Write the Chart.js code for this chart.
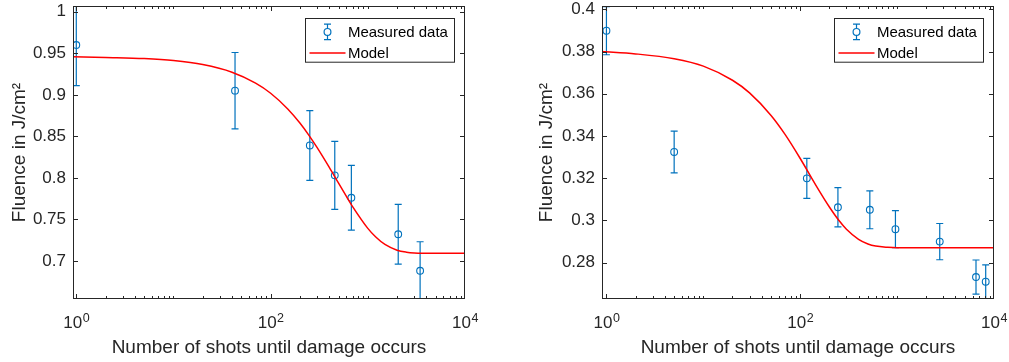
<!DOCTYPE html>
<html>
<head>
<meta charset="utf-8">
<script src="https://cdn.jsdelivr.net/npm/chart.js@4.4.0/dist/chart.umd.min.js"></script>
<style>
  html, body { margin: 0; padding: 0; background: #fff; }
  #wrap { position: relative; width: 1009px; height: 362px; }
  #left { position: absolute; left: 0; top: 0; }
  #right { position: absolute; left: 505px; top: 0; }
</style>
</head>
<body>
<div id="wrap">
  <canvas id="left" width="505" height="362"></canvas>
  <canvas id="right" width="504" height="362"></canvas>
</div>
<script>
// left panel: measured points
const shotsA = [1, 43, 253, 457, 677, 2055, 3452];
const fluenceA = [0.960, 0.905, 0.839, 0.803, 0.776, 0.732, 0.688];
const errA = [0.049, 0.046, 0.042, 0.041, 0.039, 0.036, 0.035];
// left panel: model curve
const modelShotsA = [0.925, 2, 5, 10, 20, 40, 70, 100, 150, 200, 250, 300, 400, 500, 600, 700, 1000, 1200, 1500, 2000, 2500, 3000, 5000, 10000];
const modelA = [0.946, 0.945, 0.9436, 0.9412, 0.9364, 0.9272, 0.9141, 0.9019, 0.883, 0.866, 0.8506, 0.8366, 0.8128, 0.7935, 0.7778, 0.765, 0.7391, 0.729, 0.7197, 0.7128, 0.7104, 0.7095, 0.709, 0.709];

// right panel: measured points
const shotsB = [1, 5, 117, 245, 523, 961, 2754, 6520, 8210];
const fluenceB = [0.3899, 0.3324, 0.3199, 0.3062, 0.3050, 0.2958, 0.2899, 0.2731, 0.2709];
const errB = [0.0114, 0.0099, 0.0095, 0.0093, 0.0090, 0.0088, 0.0086, 0.0081, 0.0080];
// right panel: model curve
const modelShotsB = [0.9, 2, 5, 10, 20, 30, 50, 70, 100, 150, 200, 250, 300, 400, 500, 600, 800, 1000, 10000];
const modelB = [0.3800, 0.3789, 0.3766, 0.3731, 0.3664, 0.3604, 0.3497, 0.3406, 0.3293, 0.3155, 0.3063, 0.3000, 0.2958, 0.2910, 0.2888, 0.2878, 0.2872, 0.2870, 0.2870];

const xTicks = [1, 100, 10000];
const xTickBase = '10';
const xTickExps = ['0', '2', '4'];
const yTicksA = [0.7, 0.75, 0.8, 0.85, 0.9, 0.95, 1];
const yLabelsA = ['0.7', '0.75', '0.8', '0.85', '0.9', '0.95', '1'];
const yTicksB = [0.28, 0.3, 0.32, 0.34, 0.36, 0.38, 0.4];
const yLabelsB = ['0.28', '0.3', '0.32', '0.34', '0.36', '0.38', '0.4'];

const blue = '#0072BD';
const axisGray = '#262626';
const fontFam = '"Liberation Sans", Arial, Helvetica, sans-serif';

// error bars, box, inner ticks, 10^n labels and the legend, drawn the matlab way
const matlabLook = {
  id: 'matlabLook',
  beforeDatasetsDraw(chart, args, opts) {
    const { ctx, chartArea: a, scales: { x, y } } = chart;
    ctx.save();
    ctx.beginPath();
    ctx.rect(a.left, a.top, a.right - a.left, a.bottom - a.top);
    ctx.clip();
    ctx.strokeStyle = blue;
    ctx.lineWidth = 1.2;
    opts.shots.forEach((n, i) => {
      const px = x.getPixelForValue(n);
      const lo = y.getPixelForValue(opts.fluence[i] - opts.err[i]);
      const hi = y.getPixelForValue(opts.fluence[i] + opts.err[i]);
      ctx.beginPath();
      ctx.moveTo(px, lo); ctx.lineTo(px, hi);
      ctx.moveTo(px - 3.5, lo); ctx.lineTo(px + 3.5, lo);
      ctx.moveTo(px - 3.5, hi); ctx.lineTo(px + 3.5, hi);
      ctx.stroke();
    });
    ctx.restore();
  },
  afterDraw(chart, args, opts) {
    const { ctx, chartArea: a, scales: { x, y } } = chart;
    const L = Math.round(a.left) + 0.5, R = Math.round(a.right) - 0.5;
    const T = Math.round(a.top) + 0.5, B = Math.round(a.bottom) - 0.5;
    ctx.save();
    ctx.strokeStyle = axisGray;
    ctx.lineWidth = 1;
    ctx.strokeRect(L, T, R - L, B - T);

    // inner ticks
    ctx.beginPath();
    for (let d = 0; d < 4; d++) {
      for (let m = 1; m < 10; m++) {
        const v = m * Math.pow(10, d);
        const px = Math.round(x.getPixelForValue(v)) + 0.5;
        if (px < L || px > R) continue;
        const len = (m === 1 && d % 2 === 0) ? 4.5 : 2.5;
        ctx.moveTo(px, B); ctx.lineTo(px, B - len);
        ctx.moveTo(px, T); ctx.lineTo(px, T + len);
      }
    }
    y.ticks.forEach(t => {
      const py = Math.round(y.getPixelForValue(t.value)) + 0.5;
      ctx.moveTo(L, py); ctx.lineTo(L + 4.5, py);
      ctx.moveTo(R, py); ctx.lineTo(R - 4.5, py);
    });
    ctx.stroke();

    // x tick labels as 10 with a raised exponent
    ctx.fillStyle = axisGray;
    ctx.textBaseline = 'alphabetic';
    ctx.textAlign = 'left';
    const baseFont = '17px ' + fontFam, expFont = '12.5px ' + fontFam;
    xTicks.forEach((v, i) => {
      const px = x.getPixelForValue(v);
      ctx.font = baseFont;
      const wb = ctx.measureText(xTickBase).width;
      ctx.font = expFont;
      const we = ctx.measureText(xTickExps[i]).width;
      const x0 = px - (wb + we) / 2;
      ctx.font = baseFont;
      ctx.fillText(xTickBase, x0, a.bottom + 29.3);
      ctx.font = expFont;
      ctx.fillText(xTickExps[i], x0 + wb + 0.5, a.bottom + 22.7);
    });

    // legend
    const bw = 149, bh = 43.7;
    const bx = Math.round(a.right - 11 - bw) + 0.5;
    const by = Math.round(a.top + 11.6) + 0.5;
    ctx.fillStyle = '#fff';
    ctx.fillRect(bx, by, bw, bh);
    ctx.strokeStyle = axisGray;
    ctx.strokeRect(bx, by, bw, bh);

    const y1 = by + 13.4, y2 = by + 34.4;
    const sx = bx + 22;
    ctx.strokeStyle = blue;
    ctx.lineWidth = 1.2;
    ctx.beginPath();
    ctx.moveTo(sx, y1 - 7.7); ctx.lineTo(sx, y1 - 3.4);
    ctx.moveTo(sx, y1 + 3.4); ctx.lineTo(sx, y1 + 7.7);
    ctx.moveTo(sx - 3.5, y1 - 7.7); ctx.lineTo(sx + 3.5, y1 - 7.7);
    ctx.moveTo(sx - 3.5, y1 + 7.7); ctx.lineTo(sx + 3.5, y1 + 7.7);
    ctx.stroke();
    ctx.beginPath();
    ctx.arc(sx, y1, 3.4, 0, Math.PI * 2);
    ctx.stroke();

    ctx.strokeStyle = '#FF0000';
    ctx.lineWidth = 1.5;
    ctx.beginPath();
    ctx.moveTo(bx + 4, y2); ctx.lineTo(bx + 40, y2);
    ctx.stroke();

    ctx.fillStyle = '#000';
    ctx.font = '15px ' + fontFam;
    ctx.textBaseline = 'middle';
    ctx.textAlign = 'left';
    ctx.fillText(chart.data.datasets[0].label, bx + 42.4, y1 + 0.5);
    ctx.fillText(chart.data.datasets[1].label, bx + 42.4, y2 + 0.5);
    ctx.restore();
  }
};

function makePanel(canvasId, cfg) {
  const measured = cfg.shots.map((n, i) => ({ x: n, y: cfg.fluence[i] }));
  const model = cfg.modelShots.map((n, i) => ({ x: n, y: cfg.model[i] }));
  return new Chart(document.getElementById(canvasId), {
    type: 'scatter',
    data: {
      datasets: [
        {
          label: 'Measured data',
          data: measured,
          pointStyle: 'circle',
          pointRadius: 3.4,
          pointBorderWidth: 1.1,
          pointBorderColor: blue,
          pointBackgroundColor: 'rgba(0,0,0,0)',
          order: 2
        },
        {
          label: 'Model',
          data: model,
          showLine: true,
          borderColor: '#FF0000',
          borderWidth: 1.5,
          pointRadius: 0,
          cubicInterpolationMode: 'monotone',
          order: 1
        }
      ]
    },
    options: {
      responsive: false,
      animation: false,
      devicePixelRatio: 1,
      layout: { padding: { top: 6, right: cfg.padRight, bottom: 0, left: 0 } },
      plugins: {
        legend: { display: false },
        tooltip: { enabled: false },
        matlabLook: { shots: cfg.shots, fluence: cfg.fluence, err: cfg.err }
      },
      scales: {
        x: {
          type: 'logarithmic',
          min: cfg.xMin,
          max: 10000,
          grid: { display: false, drawTicks: false },
          border: { display: false },
          afterBuildTicks: s => { s.ticks = xTicks.map(v => ({ value: v })); },
          afterFit: s => { s.height = 63; s.paddingLeft = 0; s.paddingRight = 0; },
          ticks: { display: false },
          title: {
            display: true,
            text: 'Number of shots until damage occurs',
            color: axisGray,
            font: { family: fontFam, size: 19 },
            padding: { top: 0, bottom: 3 }
          }
        },
        y: {
          min: cfg.yMin,
          max: cfg.yMax,
          grid: { display: false, drawTicks: false },
          border: { display: false },
          afterBuildTicks: s => { s.ticks = cfg.yTicks.map(v => ({ value: v })); },
          afterFit: s => { s.width = cfg.yWidth; s.paddingTop = 0; s.paddingBottom = 0; },
          ticks: {
            autoSkip: false,
            padding: 7,
            color: axisGray,
            font: { family: fontFam, size: 17 },
            callback: (v, i) => cfg.yLabels[i]
          },
          title: {
            display: true,
            text: 'Fluence in J/cm²',
            color: axisGray,
            font: { family: fontFam, size: 19 },
            padding: { top: cfg.titlePad, bottom: 0 }
          }
        }
      }
    },
    plugins: [matlabLook]
  });
}

makePanel('left', {
  shots: shotsA, fluence: fluenceA, err: errA,
  modelShots: modelShotsA, model: modelA,
  yTicks: yTicksA, yLabels: yLabelsA,
  yMin: 0.654, yMax: 1.007, xMin: 0.925,
  yWidth: 73, padRight: 40, titlePad: 8
});

makePanel('right', {
  shots: shotsB, fluence: fluenceB, err: errB,
  modelShots: modelShotsB, model: modelB,
  yTicks: yTicksB, yLabels: yLabelsB,
  yMin: 0.2627, yMax: 0.4016, xMin: 0.90,
  yWidth: 97, padRight: 15, titlePad: 30
});
</script>
</body>
</html>
